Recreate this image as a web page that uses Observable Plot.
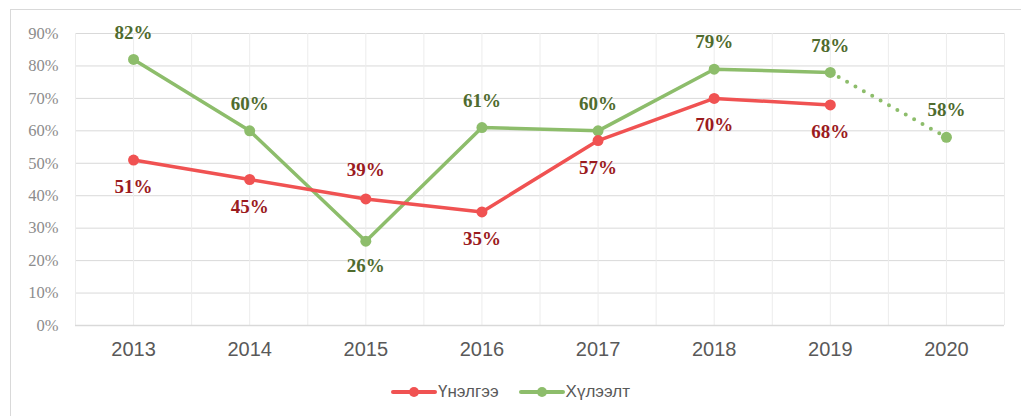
<!DOCTYPE html>
<html>
<head>
<meta charset="utf-8">
<script src="https://cdn.jsdelivr.net/npm/d3@7"></script>
<script src="https://cdn.jsdelivr.net/npm/@observablehq/plot@0.6"></script>
<style>
  body { margin: 0; background: #fff; }
  #wrap { position: relative; width: 1021px; height: 416px; overflow: hidden; }
  #frame { position: absolute; left: 10px; top: 9px; width: 1030px; height: 420px; border: 1px solid #d9d9d9; box-sizing: border-box; }
  #chart { position: absolute; left: 0; top: 0; }
  #legend { position: absolute; left: 0; top: 382px; width: 1021px; text-align: center; font-family: Arial, "Liberation Sans", sans-serif; font-size: 17px; color: #595959; }
  #legend span.item { display: inline-flex; align-items: center; margin: 0 10px; }
  #legend svg { margin-right: 1px; }
</style>
</head>
<body>
<div id="wrap">
  <div id="frame"></div>
  <div id="chart"></div>
  <div id="legend"></div>
</div>
<script>
const years = [2013, 2014, 2015, 2016, 2017, 2018, 2019, 2020];
const seriesNames = ["Үнэлгээ", "Хүлээлт"];
const unelgeeYears = [2013, 2014, 2015, 2016, 2017, 2018, 2019];
const unelgee = [0.51, 0.45, 0.39, 0.35, 0.57, 0.70, 0.68];
const huleeltYears = [2013, 2014, 2015, 2016, 2017, 2018, 2019];
const huleelt = [0.82, 0.60, 0.26, 0.61, 0.60, 0.79, 0.78];
const forecastYears = [2019, 2020];
const forecast = [0.78, 0.58];
const yTicks = [0, 0.1, 0.2, 0.3, 0.4, 0.5, 0.6, 0.7, 0.8, 0.9];

const RED = "#F05252", RED_DARK = "#9B1B1E";
const GREEN = "#8DBD6B", GREEN_DARK = "#4F6B2E";

const red = unelgeeYears.map((y, i) => ({year: y, v: unelgee[i]}));
const green = huleeltYears.map((y, i) => ({year: y, v: huleelt[i]}));
const fc = forecastYears.map((y, i) => ({year: y, v: forecast[i]}));
const greenAll = green.concat(fc.slice(1));
const redAbove = new Set([2015]);
const greenBelow = new Set([2015]);

const gridX = d3.range(years[0] - 0.5, years[years.length - 1] + 0.51, 0.5);
const pct = d3.format(".0%");
const serif = "'Liberation Serif', 'DejaVu Serif', serif";
const labelStyle = {fontFamily: serif, fontWeight: "bold", fontSize: 19};

const chart = Plot.plot({
  width: 1021,
  height: 360,
  marginLeft: 75,
  marginRight: 17,
  marginTop: 33,
  marginBottom: 35,
  style: {background: "transparent", overflow: "visible"},
  x: {domain: [years[0] - 0.5, years[years.length - 1] + 0.5], axis: null, label: null},
  y: {domain: [0, 0.9], axis: null, label: null},
  marks: [
    Plot.ruleY(yTicks, {y: d => d, stroke: "#d9d9d9", strokeWidth: 1}),
    Plot.ruleX(gridX, {x: d => d, stroke: "#ececec", strokeWidth: 1}),
    Plot.ruleY([0], {stroke: "#d9d9d9", strokeWidth: 1.5}),
    Plot.axisY({ticks: yTicks, tickFormat: pct, tickSize: 0, tickPadding: 17, label: null,
      fontFamily: serif, fontSize: 16.5, fill: "#8c8c8c"}),
    Plot.axisX({ticks: years, tickFormat: d => String(d), tickSize: 0, tickPadding: 16, label: null,
      fontFamily: "Arial, 'Liberation Sans', sans-serif", fontSize: 20, fill: "#595959"}),
    Plot.line(fc, {x: "year", y: "v", stroke: GREEN, strokeWidth: 4, strokeDasharray: "0 9.6", strokeLinecap: "round"}),
    Plot.line(green, {x: "year", y: "v", stroke: GREEN, strokeWidth: 3.5}),
    Plot.dot(greenAll, {x: "year", y: "v", r: 5.5, fill: GREEN}),
    Plot.line(red, {x: "year", y: "v", stroke: RED, strokeWidth: 3.5}),
    Plot.dot(red, {x: "year", y: "v", r: 5.5, fill: RED}),
    Plot.text(greenAll, {x: "year", y: "v", text: d => pct(d.v), fill: GREEN_DARK, ...labelStyle,
      filter: d => !greenBelow.has(d.year), dy: -27}),
    Plot.text(greenAll, {x: "year", y: "v", text: d => pct(d.v), fill: GREEN_DARK, ...labelStyle,
      filter: d => greenBelow.has(d.year), dy: 25}),
    Plot.text(red, {x: "year", y: "v", text: d => pct(d.v), fill: RED_DARK, ...labelStyle,
      filter: d => !redAbove.has(d.year), dy: 27}),
    Plot.text(red, {x: "year", y: "v", text: d => pct(d.v), fill: RED_DARK, ...labelStyle,
      filter: d => redAbove.has(d.year), dy: -29})
  ]
});
document.getElementById("chart").appendChild(chart);

const legend = document.getElementById("legend");
[[seriesNames[0], RED], [seriesNames[1], GREEN]].forEach(([name, c]) => {
  const span = document.createElement("span");
  span.className = "item";
  span.innerHTML = `<svg width="46" height="14"><line x1="2" y1="7" x2="44" y2="7" stroke="${c}" stroke-width="4" stroke-linecap="round"/><circle cx="23" cy="7" r="5" fill="${c}"/></svg>${name}`;
  legend.appendChild(span);
});
</script>
</body>
</html>
